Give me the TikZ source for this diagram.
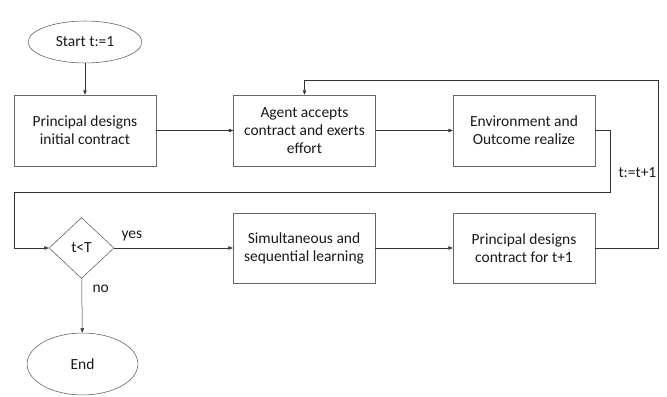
\documentclass[tikz,border=0pt]{standalone}
\usepackage{fontspec}
\setmainfont{Carlito}
\usepackage{tikz}
\usetikzlibrary{shapes.geometric,arrows.meta}

\begin{document}
\begin{tikzpicture}[x=0.0352cm, y=-0.0352cm,
  font=\fontsize{15.5}{18}\selectfont, text=black!90,
  box/.style={draw=black!60, line width=0.6pt, minimum width=142, minimum height=71, inner sep=0, align=center},
  oval/.style={ellipse, draw=black!60, line width=0.6pt, inner sep=0},
  arr/.style={draw=black!80, line width=0.5pt, -{Triangle[length=4.5pt,width=3.5pt]}}]

\useasboundingbox (0,0) rectangle (667,397);

\node[oval, minimum width=114, minimum height=42] (start) at (85,42) {Start t:=1};
\node[box] (pdinit) at (85,130.5) {Principal designs\\initial contract};
\node[box] (agent) at (304.5,130.5) {Agent accepts\\contract and exerts\\effort};
\node[box] (env) at (524,130.5) {Environment and\\Outcome realize};

\node[diamond, draw=black!60, line width=0.6pt, inner sep=0, aspect=1.07,
  minimum width=65, minimum height=61] (test) at (81.5,248) {t<T};
\node[box, minimum height=70] (learn) at (304,248) {Simultaneous and\\sequential learning};
\node[box, minimum height=70] (pdnext) at (524,248) {Principal designs\\contract for t+1};
\node[oval, minimum width=111, minimum height=62] (finish) at (82.5,364) {End};

\node[anchor=west] (yes) at (118,236) {yes};
\node[anchor=west] (no) at (89,289) {no};
\node[anchor=east, inner sep=1pt] (incr) at (657.5,173) {t:=t+1};

\coordinate (envR) at (610,192);
\coordinate (loopL) at (14,192);
\coordinate (backR) at (658,80);

\draw[arr] (start) -- (pdinit);
\draw[arr] (pdinit) -- (agent);
\draw[arr] (agent) -- (env);
\draw[arr] (env.east) -| (envR) -- (loopL) |- (test.west);
\draw[arr] (test) -- (learn);
\draw[arr] (learn) -- (pdnext);
\draw[arr] (pdnext.east) -| (backR) -| (agent.north);
\draw[arr] (test) -- (finish);
\end{tikzpicture}
\end{document}
